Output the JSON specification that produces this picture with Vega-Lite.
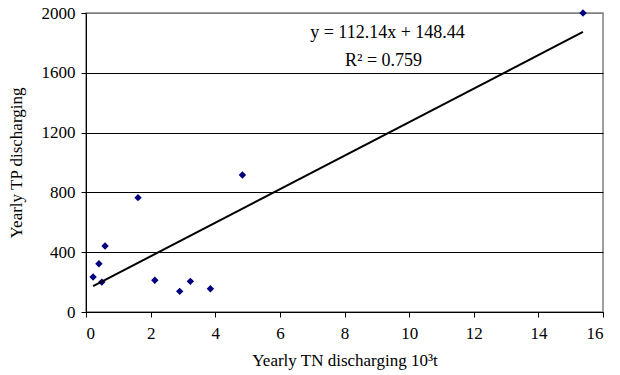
{
  "$schema": "https://vega.github.io/schema/vega-lite/v6.json",
  "width": 517,
  "height": 299,
  "autosize": {"type": "none"},
  "padding": {"left": 86, "top": 13, "right": 17, "bottom": 63},
  "background": "white",
  "config": {
    "font": "Liberation Serif",
    "view": {"stroke": "#808080", "strokeWidth": 1.5},
    "axis": {
      "labelFont": "Liberation Serif",
      "titleFont": "Liberation Serif",
      "labelFontSize": 17,
      "titleFontSize": 17,
      "labelColor": "black",
      "titleColor": "black",
      "titleFontWeight": "normal",
      "domainColor": "black",
      "tickColor": "black",
      "tickSize": 5
    }
  },
  "datasets": {
    "points": [
      {"tn": 0.22, "tp": 234},
      {"tn": 0.40, "tp": 323},
      {"tn": 0.49, "tp": 200},
      {"tn": 0.59, "tp": 441},
      {"tn": 1.61, "tp": 765},
      {"tn": 2.13, "tp": 212},
      {"tn": 2.90, "tp": 138},
      {"tn": 3.23, "tp": 205},
      {"tn": 3.85, "tp": 156},
      {"tn": 4.84, "tp": 916},
      {"tn": 15.38, "tp": 2000}
    ],
    "trend": [
      {"tn": 0.22, "tp": 173},
      {"tn": 15.38, "tp": 1873}
    ],
    "labels": [
      {"tn": 9.33, "tp": 1868, "text": "y = 112.14x + 148.44"},
      {"tn": 9.21, "tp": 1677, "text": "R² = 0.759"}
    ]
  },
  "layer": [
    {
      "data": {"name": "points"},
      "mark": {"type": "point", "shape": "diamond", "filled": true, "color": "#000080", "size": 55, "opacity": 1},
      "encoding": {
        "x": {
          "field": "tn", "type": "quantitative",
          "scale": {"domain": [0, 16], "nice": false},
          "axis": {"values": [0, 2, 4, 6, 8, 10, 12, 14, 16], "format": "d", "grid": false, "title": "Yearly TN discharging 10³t", "titlePadding": 11, "labelPadding": 8}
        },
        "y": {
          "field": "tp", "type": "quantitative",
          "scale": {"domain": [0, 2000], "nice": false},
          "axis": {"values": [0, 400, 800, 1200, 1600, 2000], "format": "d", "grid": true, "gridColor": {"condition": {"test": "datum.value === 2000", "value": "#808080"}, "value": "black"}, "gridOpacity": 1, "title": "Yearly TP discharging", "titlePadding": 16, "labelPadding": 6}
        }
      }
    },
    {
      "data": {"name": "trend"},
      "mark": {"type": "line", "color": "black", "strokeWidth": 2},
      "encoding": {
        "x": {"field": "tn", "type": "quantitative"},
        "y": {"field": "tp", "type": "quantitative"}
      }
    },
    {
      "data": {"name": "labels"},
      "mark": {"type": "text", "font": "Liberation Serif", "fontSize": 18, "color": "black", "align": "center", "baseline": "middle"},
      "encoding": {
        "x": {"field": "tn", "type": "quantitative"},
        "y": {"field": "tp", "type": "quantitative"},
        "text": {"field": "text"}
      }
    }
  ]
}
